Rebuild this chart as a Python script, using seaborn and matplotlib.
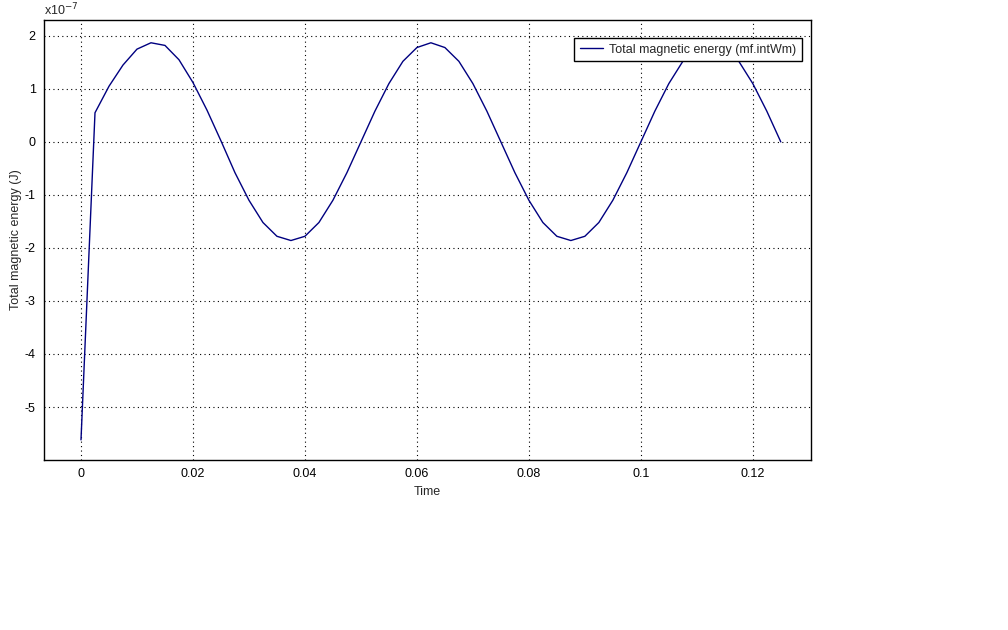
import numpy as np
import pandas as pd
import seaborn as sns
import matplotlib.pyplot as plt
from matplotlib.ticker import FuncFormatter

# time (s) and total magnetic energy in units of 1e-7 J
time = [0.0, 0.0025, 0.005, 0.0075, 0.01, 0.0125, 0.015, 0.0175, 0.02, 0.0225,
        0.025, 0.0275, 0.03, 0.0325, 0.035, 0.0375, 0.04, 0.0425, 0.045, 0.0475,
        0.05, 0.0525, 0.055, 0.0575, 0.06, 0.0625, 0.065, 0.0675, 0.07, 0.0725,
        0.075, 0.0775, 0.08, 0.0825, 0.085, 0.0875, 0.09, 0.0925, 0.095, 0.0975,
        0.1, 0.1025, 0.105, 0.1075, 0.11, 0.1125, 0.115, 0.1175, 0.12, 0.1225,
        0.125]
energy = [-5.62, 0.55, 1.05, 1.45, 1.75, 1.87, 1.82, 1.55, 1.12, 0.6,
          0.02, -0.58, -1.1, -1.52, -1.78, -1.86, -1.78, -1.52, -1.1, -0.58,
          0.0, 0.58, 1.1, 1.52, 1.78, 1.87, 1.78, 1.52, 1.1, 0.58,
          0.0, -0.58, -1.1, -1.52, -1.78, -1.86, -1.78, -1.52, -1.1, -0.58,
          0.0, 0.58, 1.1, 1.52, 1.78, 1.87, 1.78, 1.52, 1.1, 0.58,
          0.0]
label = 'Total magnetic energy (mf.intWm)'

df = pd.DataFrame({'Time': time, 'energy': np.array(energy) * 1e-7})

sns.set_style('white')
plt.rcParams['font.family'] = ['Liberation Sans', 'DejaVu Sans']

fig = plt.figure(figsize=(10.08, 6.3), dpi=100)
ax = fig.add_axes([0.0437, 0.2698, 0.7609, 0.6985])
sns.lineplot(data=df, x='Time', y='energy', color='#000080', linewidth=1.0,
             label=label, ax=ax)

ax.set_xlim(-0.0066, 0.1304)
ax.set_ylim(-6.0e-7, 2.3e-7)
ax.set_xticks([0, 0.02, 0.04, 0.06, 0.08, 0.1, 0.12])
ax.set_xticklabels(['0', '0.02', '0.04', '0.06', '0.08', '0.1', '0.12'])
ax.set_yticks(np.arange(-5, 3) * 1e-7)
ax.yaxis.set_major_formatter(FuncFormatter(lambda v, p: '%d' % round(v / 1e-7)))
ax.grid(True, color='black', linestyle=(0, (1, 3)), linewidth=0.8)
for s in ax.spines.values():
    s.set_color('black')
    s.set_linewidth(1.0)
ax.tick_params(direction='in', length=5, width=0.8, color='black', labelsize=9,
               labelcolor='black')
ax.tick_params(axis='x', pad=6)
ax.tick_params(axis='y', pad=6)
ax.set_xlabel('Time', fontsize=9)
ax.set_ylabel('Total magnetic energy (J)', fontsize=9)
ax.xaxis.set_label_coords(0.5, -0.059)
ax.yaxis.set_label_coords(-0.029, 0.5)
ax.text(0.0, 1.003, r'x10$^{-7}$', transform=ax.transAxes, fontsize=9,
        ha='left', va='bottom')

leg = ax.legend(loc='upper right', bbox_to_anchor=(0.9883, 0.959),
                borderaxespad=0, fontsize=9, frameon=True, fancybox=False,
                edgecolor='black', framealpha=1, handlelength=1.85,
                handletextpad=0.5, borderpad=0.45)
leg.get_frame().set_linewidth(1.0)

fig.savefig('out.png', dpi=100)
